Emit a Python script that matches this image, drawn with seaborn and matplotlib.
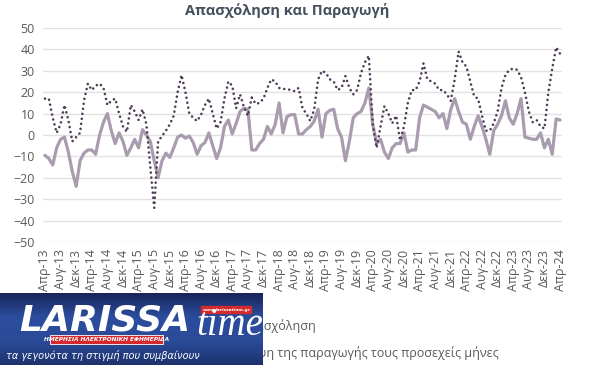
import numpy as np
import pandas as pd
import matplotlib
matplotlib.use("Agg")
import matplotlib.pyplot as plt
from matplotlib.colors import LinearSegmentedColormap
from matplotlib.lines import Line2D
from matplotlib.patches import Rectangle
import seaborn as sns

# Monthly balances, Apr-13 .. Apr-24 (133 months)
employment = [
    -9.5, -11, -14, -6, -2, -1, -8, -17, -24, -12, -8.5, -7,
    -7, -9, 0, 6, 10, 2, -4, 1, -3, -9.5, -6, -2,
    -6, 2.5, 0, -3, -12, -20, -12, -8.5, -10.5, -6, -1, 0,
    -1.5, -0.5, -3.5, -9, -5, -3.5, 1, -5, -11, -6, 4, 7,
    0.5, 5.5, 11, 12.5, 12, -7, -7, -4, -2, 4, 0.5, 5,
    15, 1, 8.5, 9.5, 9.5, 0.5, 0.5, 2.5, 4, 6.5, 12, -1,
    10, 11.5, 12, 3, -1, -12, -3, 8, 10, 11, 15, 22,
    5, -4, -2, -8, -11, -6, -4, -4, 1, -8, -7, -7,
    8, 14, 13, 12, 11, 8, 10, 3, 12, 17, 11, 6,
    5, -2, 4, 9, 4, -2, -9, 2, 5, 9, 16, 8,
    5, 10, 17, -1, -1.5, -2, -2, 1, -6, -2, -9, 7.5,
    7,
]
production = [
    17, 17, 8, 1, 5, 14, 7, -3, -1, 1, 16, 24,
    21, 23, 24, 22, 14, 16, 17, 10, 4, 1.5, 14, 11,
    7, 12, 5, -15, -34, -3, -0.5, 2, 5, 9, 20, 28,
    20, 10, 8, 6.5, 9.5, 14, 17, 10, 3, 6, 17, 25,
    23, 12.5, 19, 13, 9, 17.5, 14.5, 15, 17, 22, 26, 25,
    22, 21.5, 21.5, 21, 20.5, 22, 12.5, 10, 6.5, 12, 26, 30,
    29, 26, 25, 21, 22, 27.5, 22, 19, 21, 29, 34, 37,
    5, -6, 4, 13.5, 10, 5.5, 9, -2.5, 4, 15, 21, 21,
    25, 33.5, 26, 25, 24, 21, 21, 19, 16, 26, 39, 34,
    32, 25, 18, 17, 9, 2, 2, 5.5, 11, 22, 28, 30.5,
    31, 30.5, 27, 20, 11, 6, 7, 4, 3, 20, 31, 41,
    38,
]
tick_labels = [
    "Απρ-13", "Αυγ-13", "Δεκ-13", "Απρ-14", "Αυγ-14", "Δεκ-14",
    "Απρ-15", "Αυγ-15", "Δεκ-15", "Απρ-16", "Αυγ-16", "Δεκ-16",
    "Απρ-17", "Αυγ-17", "Δεκ-17", "Απρ-18", "Αυγ-18", "Δεκ-18",
    "Απρ-19", "Αυγ-19", "Δεκ-19", "Απρ-20", "Αυγ-20", "Δεκ-20",
    "Απρ-21", "Αυγ-21", "Δεκ-21", "Απρ-22", "Αυγ-22", "Δεκ-22",
    "Απρ-23", "Αυγ-23", "Δεκ-23", "Απρ-24",
]
series_names = ["Απασχόληση", "Πρόβλεψη της παραγωγής τους προσεχείς μήνες"]

df = pd.DataFrame({
    "month": np.arange(len(employment)),
    "employment": employment,
    "production": production,
})

sns.set_theme(style="white")
plt.rcParams["font.family"] = ["Open Sans", "DejaVu Sans"]

W, H = 592, 365
fig = plt.figure(figsize=(W / 100, H / 100), dpi=100)
ax = fig.add_axes([43 / W, 1 - 242 / H, 519 / W, 214 / H])

solid_col = "#aa9caf"
dot_col = "#4e3b58"
grey = "#595959"
dotted = (0, (0.01, 1.9))

sns.lineplot(data=df, x="month", y="employment", ax=ax, color=solid_col,
             linewidth=2.3, solid_capstyle="round", solid_joinstyle="round")
sns.lineplot(data=df, x="month", y="production", ax=ax, color=dot_col,
             linewidth=1.9, linestyle=dotted, dash_capstyle="round")

ax.set_xlim(-0.5, len(employment) - 0.5)
ax.set_ylim(-50, 50)
ax.set_yticks(range(-50, 51, 10))
ax.set_xticks(range(0, len(employment), 4))
ax.set_xticklabels(tick_labels, rotation=90)
ax.tick_params(axis="both", labelsize=9, labelcolor=grey, length=0)
ax.tick_params(axis="y", pad=6)
ax.tick_params(axis="x", pad=5)
ax.set_xlabel("")
ax.set_ylabel("")
ax.grid(axis="y", color="#e2e2e2", linewidth=1)
ax.grid(axis="x", visible=False)
for s in ax.spines.values():
    s.set_visible(False)

fig.text(287 / W, 1 - 11 / H, "Απασχόληση και Παραγωγή", ha="center", va="center",
         fontsize=10.5, fontweight="bold", color="#44505e")

# legend rows (left edge partly hidden by the logo, as in the source)
h_emp = Line2D([], [], color=solid_col, linewidth=2.3)
h_prod = Line2D([], [], color=dot_col, linewidth=1.9, linestyle=dotted, dash_capstyle="round")
fig.legend([h_emp], series_names[:1], loc="upper left", bbox_to_anchor=(187 / W, 1 - 308 / H),
           frameon=False, fontsize=9, labelcolor=grey, handlelength=2.5, borderpad=0.4)
fig.legend([h_prod], series_names[1:], loc="upper left", bbox_to_anchor=(159 / W, 1 - 335 / H),
           frameon=False, fontsize=9, labelcolor=grey, handlelength=2.5, borderpad=0.4)

# newspaper logo overlay (bottom left)
lax = fig.add_axes([0, 0, 263 / W, 72 / H], zorder=10)
grad = LinearSegmentedColormap.from_list("logo", ["#17255a", "#2c4d9e", "#2b4b99", "#1c326e"])
lax.imshow(np.linspace(0, 1, 100).reshape(-1, 1), cmap=grad, aspect="auto",
           extent=[0, 1, 0, 1], origin="upper", zorder=0)
lax.set_xlim(0, 1)
lax.set_ylim(0, 1)
lax.axis("off")
lax.add_patch(Rectangle((0.19, 0.29), 0.43, 0.12, facecolor="#d42a2e", edgecolor="white",
                        linewidth=0.6, zorder=2))
lax.text(0.405, 0.35, "ΗΜΕΡΗΣΙΑ ΗΛΕΚΤΡΟΝΙΚΗ ΕΦΗΜΕΡΙΔΑ", fontsize=4.2, fontweight="bold",
         fontstyle="italic", family="DejaVu Sans", color="white", ha="center", va="center", zorder=3)
lax.text(0.075, 0.48, "LARISSA", fontsize=26, fontweight="bold", fontstyle="italic",
         family="DejaVu Sans", color="white", va="baseline", zorder=4, clip_on=True)
lax.text(0.745, 0.42, "time", fontsize=28, fontstyle="italic",
         family="Liberation Serif", color="white", va="baseline", zorder=4, clip_on=True)
lax.add_patch(Rectangle((0.765, 0.72), 0.19, 0.1, color="#d42a2e", zorder=2))
lax.text(0.86, 0.77, "www.larissatime.gr", fontsize=3.2, fontweight="bold",
         fontstyle="italic", family="DejaVu Sans", color="white", ha="center", va="center", zorder=3)
lax.text(0.39, 0.13, "τα γεγονότα τη στιγμή που συμβαίνουν", fontsize=7,
         fontstyle="italic", family="DejaVu Sans", color="white", ha="center", va="center", zorder=3)

fig.savefig("out.png", dpi=100)
plt.close(fig)
